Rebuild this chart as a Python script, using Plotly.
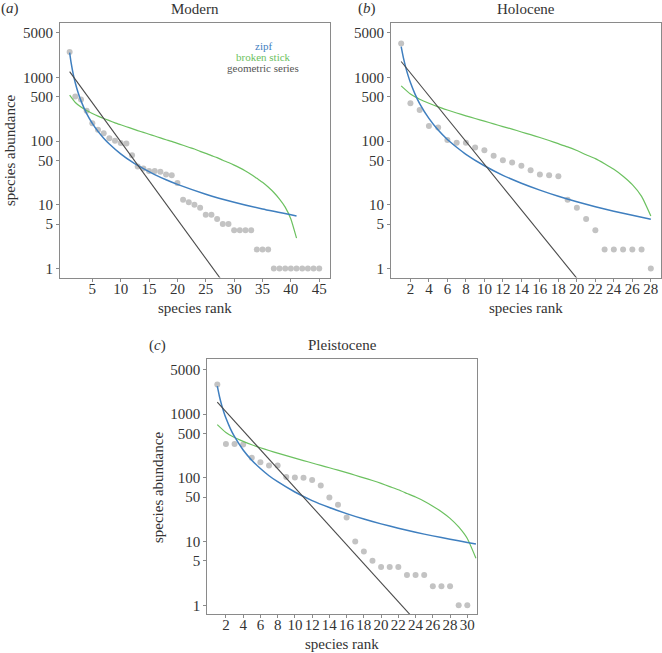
import plotly.graph_objects as go

# --- data ---
modern_rank = list(range(1, 46))
modern_abund = [2500, 500, 450, 300, 190, 150, 133, 111, 101, 93,
                92, 60, 40, 37, 34, 34, 33, 30, 29, 22,
                12, 11, 10, 9, 7, 7, 6, 5, 5, 4,
                4, 4, 4, 2, 2, 2, 1, 1, 1, 1,
                1, 1, 1, 1, 1]
modern_zipf_rank = [1, 1.25, 1.5, 1.75, 2, 2.5, 3, 4, 5, 6, 7, 8, 10, 12, 14, 16, 18, 20, 25, 30, 35, 41]
modern_zipf = [2450, 1718, 1286, 1006, 814, 571, 427, 270, 190, 142, 111, 90, 63, 47, 36.9, 29.8, 24.7,
               20.9, 14.7, 11.0, 8.6, 6.7]
modern_stick_rank = list(range(1, 42))
modern_stick = [525, 403, 342, 301, 271, 246, 226, 209, 193, 180,
                168, 157, 146, 137, 128, 120, 112, 105, 99, 92,
                86, 80, 75, 69, 64, 59, 55, 50, 46, 42,
                38, 34, 30, 26, 22.6, 19, 15.6, 12.3, 9.2, 6.0, 3.0]
modern_geom_rank = [1, 11, 21, 31, 41]
modern_geom = [1230, 74, 4.5, 0.27, 0.016]

holo_rank = list(range(1, 29))
holo_abund = [3390, 392, 308, 173, 163, 104, 94, 94, 79, 72,
              59, 50, 46, 41, 35, 30, 29, 28, 12, 9,
              6, 4, 2, 2, 2, 2, 2, 1]
holo_zipf_rank = [1, 1.25, 1.5, 1.75, 2, 2.5, 3, 4, 5, 6, 7, 8, 10, 12, 14, 16, 18, 20, 22, 24, 26, 28]
holo_zipf = [3030, 1996, 1420, 1064, 829, 546, 388, 227, 149, 106, 80, 62, 41, 29, 21.8, 17.0, 13.6,
             11.2, 9.35, 7.95, 6.84, 5.96]
holo_stick_rank = list(range(1, 29))
holo_stick = [733, 546, 453, 391, 344, 307, 276, 249, 226, 205,
              186, 169, 154, 139, 126, 114, 102, 91, 81, 71,
              61, 53, 44, 36, 28, 20.7, 13.6, 6.7]
holo_geom_rank = [1, 10, 20, 28]
holo_geom = [1770, 43, 0.70, 0.026]

pleist_rank = list(range(1, 31))
pleist_abund = [2910, 341, 341, 335, 206, 176, 156, 156, 103, 101,
                100, 93, 76, 49, 38, 24, 10, 7, 5, 4,
                4, 4, 3, 3, 3, 2, 2, 2, 1, 1]
pleist_zipf_rank = [1, 1.25, 1.5, 1.75, 2, 2.5, 3, 4, 5, 6, 7, 8, 10, 12, 14, 16, 18, 20, 22, 24, 26, 28,
                    30, 31]
pleist_zipf = [2740, 1892, 1398, 1082, 867, 599, 442, 274, 189, 140, 108, 87, 60, 44, 34.3, 27.5, 22.6,
               19.0, 16.2, 14.0, 12.3, 10.9, 9.7, 9.2]
pleist_stick_rank = list(range(1, 32))
pleist_stick = [686, 515, 430, 374, 331, 297, 269, 244, 223, 204,
                187, 171, 157, 144, 132, 121, 110, 100, 91, 82,
                73, 65, 57, 50, 43, 36, 29.5, 23.2, 17.0, 11.2, 5.5]
pleist_geom_rank = [1, 11, 21, 31]
pleist_geom = [1540, 50, 1.6, 0.052]

y_ticks = [1, 5, 10, 50, 100, 500, 1000, 5000]

W, H = 662, 653
FONT = "Liberation Serif, Times New Roman, serif"
TEXT = "#333333"
ZIPF_C = "#3f7fbf"
STICK_C = "#6cc160"
GEOM_C = "#4a4a4a"
DOT_C = "#c3c3c3"

fig = go.Figure()


def px_x(p):
    return p / W


def px_y(p):
    return 1 - p / H


def add_panel(n, left, top, xrange, xticks, pts, zipf, stick, geom):
    right, bottom = left + 270, top + 255
    xa = "xaxis" if n == 1 else f"xaxis{n}"
    ya = "yaxis" if n == 1 else f"yaxis{n}"
    xr = "x" if n == 1 else f"x{n}"
    yr = "y" if n == 1 else f"y{n}"
    fig.add_trace(go.Scatter(x=pts[0], y=pts[1], mode="markers", xaxis=xr, yaxis=yr,
                             marker=dict(color=DOT_C, size=6), showlegend=False))
    fig.add_trace(go.Scatter(x=stick[0], y=stick[1], mode="lines", xaxis=xr, yaxis=yr,
                             line=dict(color=STICK_C, width=1.2, shape="spline", smoothing=0.5),
                             showlegend=False))
    fig.add_trace(go.Scatter(x=zipf[0], y=zipf[1], mode="lines", xaxis=xr, yaxis=yr,
                             line=dict(color=ZIPF_C, width=1.5, shape="spline", smoothing=0.5),
                             showlegend=False))
    fig.add_trace(go.Scatter(x=geom[0], y=geom[1], mode="lines", xaxis=xr, yaxis=yr,
                             line=dict(color=GEOM_C, width=1.1), showlegend=False))
    axis_common = dict(showline=True, mirror=True, linecolor="#8a8a8a", linewidth=1,
                       ticks="outside", ticklen=3, tickcolor="#8a8a8a", showgrid=False,
                       zeroline=False, automargin=False,
                       tickfont=dict(family=FONT, size=15, color=TEXT))
    fig.update_layout({
        xa: dict(domain=[px_x(left), px_x(right)], range=xrange, tickvals=xticks,
                 tickangle=0, ticklabelstandoff=-6, anchor=yr, **axis_common),
        ya: dict(domain=[px_y(bottom), px_y(top)], type="log", range=[-0.14, 3.86],
                 tickvals=y_ticks, ticktext=[str(v) for v in y_ticks], anchor=xr, **axis_common),
    })
    return left, right, top, bottom


panels = [
    (1, 60, 22.5, [-0.7, 46.9], list(range(5, 46, 5)),
     (modern_rank, modern_abund), (modern_zipf_rank, modern_zipf),
     (modern_stick_rank, modern_stick), (modern_geom_rank, modern_geom), "Modern", "a", 50),
    (2, 391, 22.5, [-0.1, 29.1], list(range(2, 29, 2)),
     (holo_rank, holo_abund), (holo_zipf_rank, holo_zipf),
     (holo_stick_rank, holo_stick), (holo_geom_rank, holo_geom), "Holocene", "b", 24),
    (3, 207.3, 359.3, [-0.16, 31.16], list(range(2, 31, 2)),
     (pleist_rank, pleist_abund), (pleist_zipf_rank, pleist_zipf),
     (pleist_stick_rank, pleist_stick), (pleist_geom_rank, pleist_geom), "Pleistocene", "c", 50),
]


def text_note(text, x, y, size=15, color=TEXT, angle=0):
    return dict(text=text, x=px_x(x), y=px_y(y), xref="paper", yref="paper", showarrow=False,
                xanchor="center", yanchor="middle", textangle=angle,
                font=dict(family=FONT, size=size, color=color))


annotations = []
for n, left, top, xrange, xticks, pts, zipf, stick, geom, title, tag, tag_off in panels:
    l, r, t, b = add_panel(n, left, top, xrange, xticks, pts, zipf, stick, geom)
    annotations.append(text_note(title, (l + r) / 2, t - 14))
    # panel tag "(a)" with italic letter
    annotations.append(text_note("(<i>" + tag + "</i>)", l - tag_off, t - 14))
    annotations.append(text_note("species rank", (l + r) / 2, b + 30))
    if n != 2:
        annotations.append(text_note("species abundance", l - 50, (t + b) / 2, angle=-90))

# legend of panel (a) as coloured text
for label, color, ypx in [("zipf", ZIPF_C, 46), ("broken stick", STICK_C, 57),
                          ("geometric series", "#555555", 68)]:
    annotations.append(text_note(label, 263, ypx, size=11, color=color))

fig.update_layout(
    width=W, height=H,
    margin=dict(l=0, r=0, t=0, b=0),
    paper_bgcolor="white", plot_bgcolor="white",
    annotations=annotations,
)

# drop the browser's default body margin so the figure sits at the page corner
fig.write_html("out.html", config={"displayModeBar": False},
               post_script="document.body.style.margin='0';")
